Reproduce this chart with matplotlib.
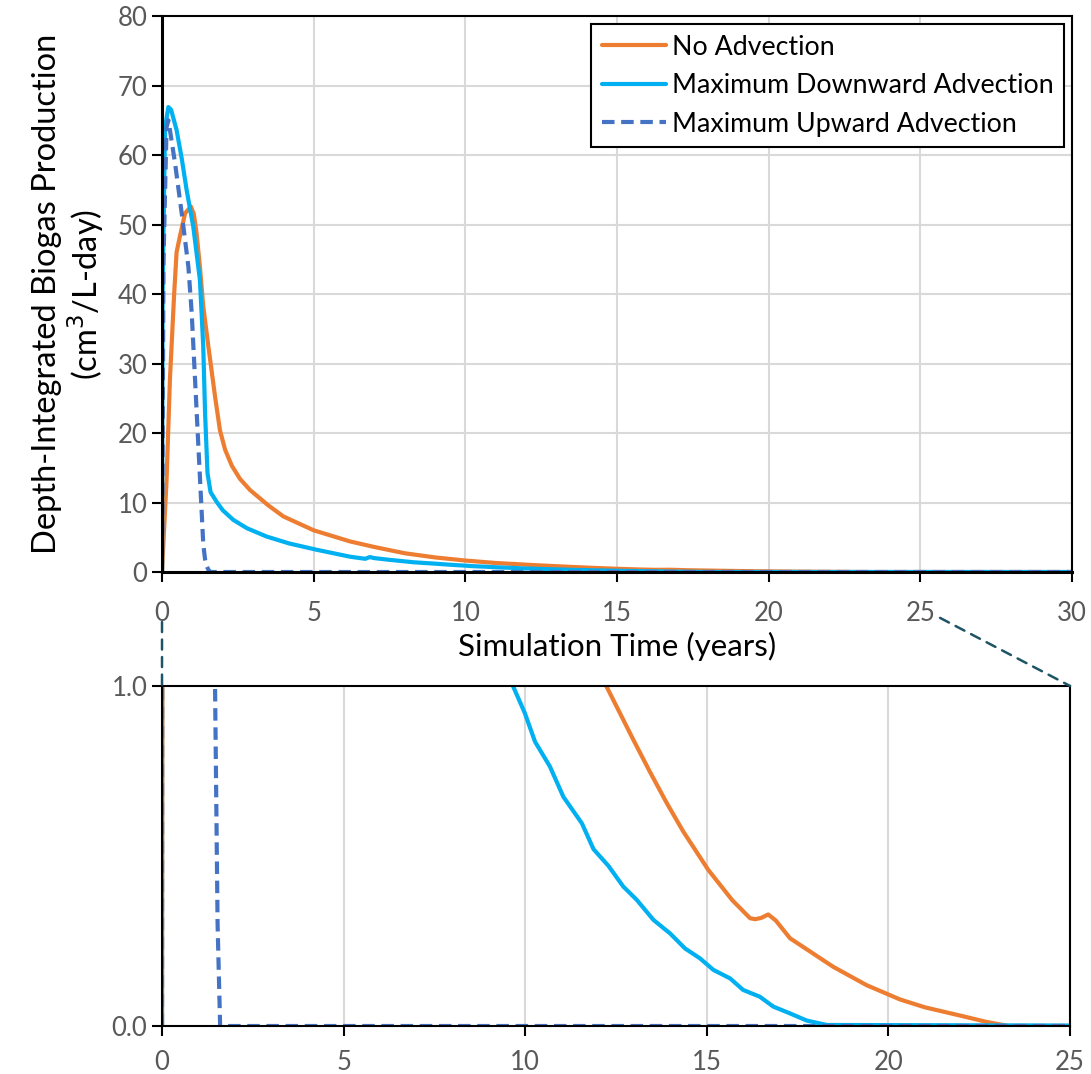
import matplotlib
matplotlib.use("Agg")
import matplotlib.pyplot as plt
from matplotlib.patches import ConnectionPatch

plt.rcParams['font.family'] = ['Lato', 'DejaVu Sans']

# ---------------- data ----------------
t_none = [0, 0.05, 0.15, 0.26, 0.4, 0.48, 0.6, 0.76, 0.95, 1.05, 1.14, 1.25, 1.36, 1.53,
          1.75, 1.91, 2.08, 2.3, 2.57, 2.9, 3.5, 4.0, 5.0, 6.2, 7.0, 8.0, 9.0, 10.0, 11.0,
          12.24, 12.98, 13.43, 13.9, 14.35, 15.04, 15.7, 16.19, 16.33, 16.5, 16.69, 16.9,
          17.29, 17.8, 18.48, 19.4, 20.32, 21.0, 22.0, 22.7, 23.3, 25.0, 30.0]
v_none = [0, 4.5, 13.2, 27.6, 40.0, 46.0, 48.5, 51.6, 52.6, 51.5, 48.7, 43.9, 38.2, 32.4,
          25.2, 20.4, 17.6, 15.3, 13.4, 11.8, 9.6, 8.0, 6.0, 4.4, 3.6, 2.7, 2.1, 1.65, 1.3,
          0.998, 0.841, 0.748, 0.655, 0.572, 0.459, 0.37, 0.317, 0.314, 0.318, 0.328, 0.31,
          0.258, 0.222, 0.174, 0.12, 0.078, 0.055, 0.03, 0.012, 0.0, 0.0, 0.0]

t_down = [0, 0.02, 0.1, 0.21, 0.3, 0.48, 0.65, 0.81, 1.03, 1.25, 1.36, 1.42, 1.5, 1.6,
          1.8, 2.0, 2.35, 2.8, 3.45, 4.2, 5.1, 6.2, 6.7, 6.85, 7.0, 7.5, 8.3, 9.0, 9.67,
          9.99, 10.27, 10.68, 11.05, 11.56, 11.88, 12.29, 12.7, 13.07, 13.53, 13.99, 14.4,
          14.81, 15.18, 15.64, 16.0, 16.46, 16.83, 17.29, 17.75, 18.3, 30.0]
v_down = [0, 40.0, 64.0, 66.9, 66.5, 63.6, 59.5, 55.0, 49.7, 42.0, 32.4, 22.8, 14.2, 11.5,
          10.1, 8.9, 7.5, 6.3, 5.1, 4.1, 3.2, 2.2, 1.9, 2.15, 2.0, 1.75, 1.4, 1.2, 0.998,
          0.92, 0.836, 0.763, 0.674, 0.596, 0.52, 0.471, 0.41, 0.371, 0.312, 0.272, 0.228,
          0.199, 0.165, 0.14, 0.106, 0.086, 0.057, 0.037, 0.016, 0.003, 0.0]

t_up = [0, 0.05, 0.15, 0.21, 0.3, 0.43, 0.65, 0.87, 0.98, 1.09, 1.2, 1.31, 1.36, 1.42,
        1.46, 1.53, 1.6, 30.0]
v_up = [0, 45.0, 64.0, 65.0, 62.5, 58.8, 51.6, 43.9, 37.2, 27.6, 18.0, 8.4, 4.0, 1.8,
        1.0, 0.3, 0.0, 0.0]

labels = ["No Advection", "Maximum Downward Advection", "Maximum Upward Advection"]
colors = ["#ED7D31", "#00B0F0", "#4472C4"]

top_xticks = [0, 5, 10, 15, 20, 25, 30]
top_yticks = [0, 10, 20, 30, 40, 50, 60, 70, 80]
bot_xticks = [0, 5, 10, 15, 20, 25]
bot_yticks = [0.0, 1.0]

# ---------------- figure ----------------
fig = plt.figure(figsize=(10.91, 10.74), dpi=100)
ax1 = fig.add_axes([0.1485, 0.4674, 0.8341, 0.5177])
ax2 = fig.add_axes([0.1485, 0.0447, 0.8323, 0.3166])

tick_color = "#595959"
grid_color = "#D9D9D9"
fs_tick = 18.5
fs_xlabel = 22.5
fs_ylabel = 23.5
fs_leg = 19.3

series = [(t_none, v_none, '-'), (t_down, v_down, '-'), (t_up, v_up, (0, (3, 1.6)))]

for ax in (ax1, ax2):
    for (t, v, ls), c, lab in zip(series, colors, labels):
        ax.plot(t, v, color=c, lw=3, linestyle=ls, label=lab,
                solid_capstyle='round', solid_joinstyle='round')
    for s in ax.spines.values():
        s.set_color('black')
        s.set_linewidth(1.5)
    ax.tick_params(direction='out', length=7, width=1.5, color='black',
                   labelcolor=tick_color, labelsize=fs_tick)
    ax.set_axisbelow(True)

ax1.set_xlim(0, 30)
ax1.set_ylim(0, 80)
ax1.set_xticks(top_xticks)
ax1.set_yticks(top_yticks)
ax1.grid(True, color=grid_color, lw=1.5)
ax1.tick_params(axis='x', pad=14)
ax1.spines['left'].set_linewidth(2.2)
ax1.spines['bottom'].set_linewidth(2.2)
ax1.set_xlabel("Simulation Time (years)", fontsize=fs_xlabel, labelpad=4)
ax1.set_ylabel("Depth-Integrated Biogas Production\n(cm$^3$/L-day)", fontsize=fs_ylabel,
               labelpad=8, linespacing=1.12)

leg = ax1.legend(loc='upper right', fontsize=fs_leg, frameon=True, fancybox=False,
                 edgecolor='black', framealpha=1, handlelength=2.4, handletextpad=0.2,
                 borderpad=0.4, labelspacing=0.5, borderaxespad=0.3)
leg.get_frame().set_linewidth(1.5)

ax2.set_xlim(0, 25)
ax2.set_ylim(0, 1.0)
ax2.set_xticks(bot_xticks)
ax2.set_yticks(bot_yticks)
ax2.set_yticklabels([f"{v:.1f}" for v in bot_yticks])
ax2.grid(True, axis='x', color=grid_color, lw=1.5)
ax2.tick_params(axis='x', pad=10)

# zoom connector lines
conn_color = "#1F5466"
for xyA, xyB in [((0, -7.2), (0, 1)), ((25.65, -6.6), (1, 1))]:
    cp = ConnectionPatch(xyA=xyA, coordsA=ax1.transData, xyB=xyB, coordsB=ax2.transAxes,
                         color=conn_color, lw=1.8, linestyle=(0, (4, 3)))
    fig.add_artist(cp)

fig.savefig("out.png", dpi=100)
